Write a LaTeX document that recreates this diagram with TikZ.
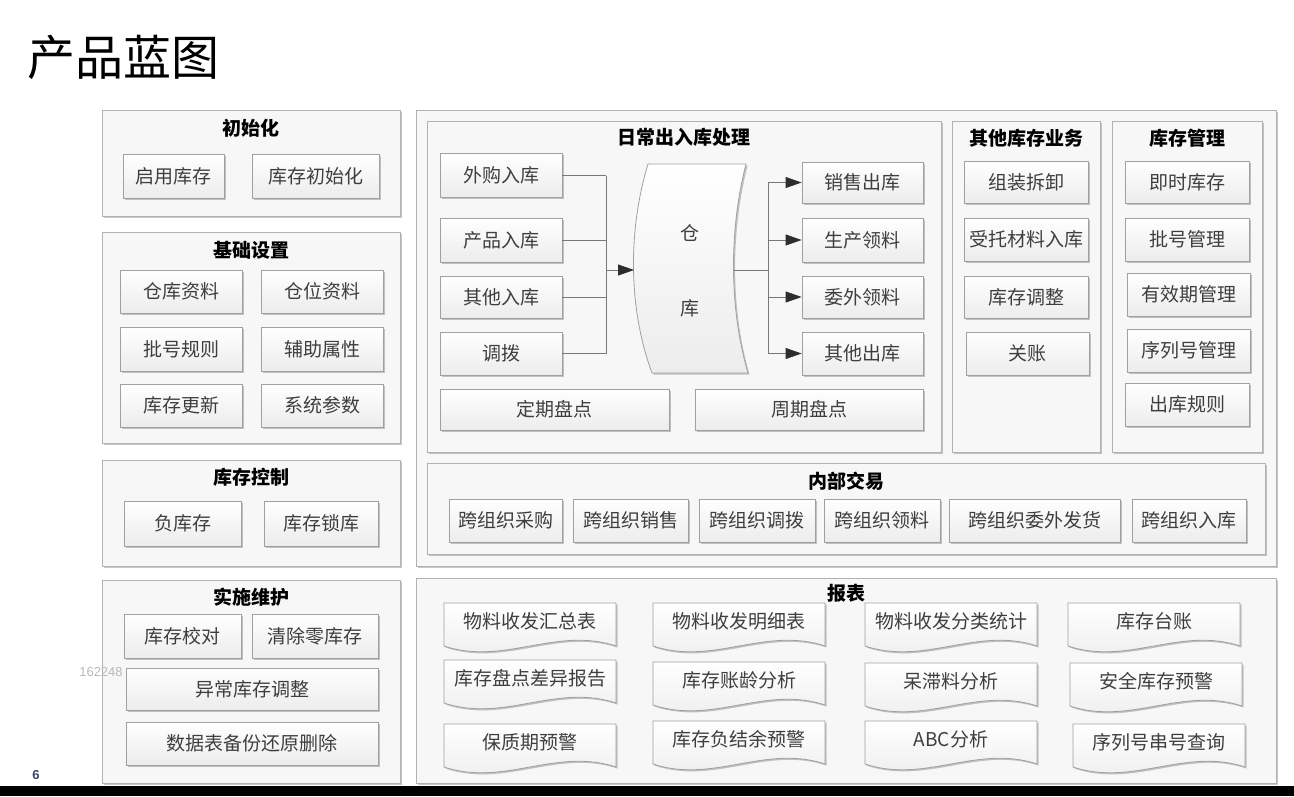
\documentclass[tikz,border=0pt]{standalone}
\usepackage{fontspec}
\setmainfont{Noto Sans CJK SC}
\newfontfamily\latinsans{Liberation Sans}
\usetikzlibrary{arrows.meta,shadows}

\definecolor{frameline}{RGB}{178,178,178}
\definecolor{framefill}{RGB}{247,247,247}
\definecolor{boxline}{RGB}{160,160,160}
\definecolor{boxbottom}{RGB}{236,236,236}
\definecolor{boxtext}{RGB}{62,62,62}
\definecolor{linkgray}{RGB}{120,120,120}
\definecolor{tipdark}{RGB}{45,45,45}
\definecolor{pagenum}{RGB}{60,70,100}

\newcommand{\cjkbig}{\fontsize{48}{56}\selectfont}
\newcommand{\cjkmid}{\fontsize{19}{22}\selectfont}

\begin{document}
\begin{tikzpicture}[x=1pt, y=-1pt, >=Latex]
    \tikzset{
        softshadow/.style={drop shadow={shadow xshift=1.6pt, shadow yshift=-1.6pt, fill=black, opacity=0.22}},
        frame/.style={rectangle, draw=frameline, fill=framefill, line width=0.9pt, inner sep=0pt, softshadow},
        grouptitle/.style={font=\bfseries\cjkmid, text=black, inner sep=1pt},
        box/.style={rectangle, draw=boxline, top color=white, bottom color=boxbottom, line width=0.8pt, minimum height=44pt, inner sep=2pt, font=\cjkmid, text=boxtext, softshadow},
        doc/.style={draw=boxline, top color=white, bottom color=boxbottom, line width=0.8pt, softshadow},
        doctext/.style={font=\cjkmid, text=boxtext, inner sep=1pt},
        link/.style={draw=linkgray, line width=0.8pt},
        flow/.style={link, -{Triangle[length=16pt, width=11pt, color=tipdark]}}
    }
    \useasboundingbox (0,0) rectangle (1294,796);
    \fill[white] (0,0) rectangle (1294,796);

    % title and page marks
    \node[anchor=west, font=\cjkbig, inner sep=0pt] (title) at (27,57) {产品蓝图};
    \node[font=\latinsans\bfseries\fontsize{13}{15}\selectfont, text=pagenum, inner sep=0pt] (page) at (36,775) {6};
    \fill[black] (0,786) rectangle (1294,796);

    % left column
    \node[frame, minimum width=298pt, minimum height=106pt] (init) at (251,163) {};
    \node[grouptitle] (initT) at (251,128) {初始化};
    \node[box, minimum width=101pt] (i1) at (173.5,176) {启用库存};
    \node[box, minimum width=127pt] (i2) at (315.5,176) {库存初始化};

    \node[frame, minimum width=298pt, minimum height=211pt] (base) at (251,337.5) {};
    \node[grouptitle] (baseT) at (251,250) {基础设置};
    \node[box, minimum width=122pt, minimum height=43pt] (b1) at (181,291.5) {仓库资料};
    \node[box, minimum width=122pt, minimum height=43pt] (b2) at (322,291.5) {仓位资料};
    \node[box, minimum width=122pt] (b3) at (181,349) {批号规则};
    \node[box, minimum width=122pt] (b4) at (322,349) {辅助属性};
    \node[box, minimum width=122pt, minimum height=43pt] (b5) at (181,405.5) {库存更新};
    \node[box, minimum width=122pt, minimum height=43pt] (b6) at (322,405.5) {系统参数};

    \node[frame, minimum width=298pt, minimum height=106pt] (ctrl) at (251,513) {};
    \node[grouptitle] (ctrlT) at (251,477) {库存控制};
    \node[box, minimum width=117pt, minimum height=45pt] (c1) at (182.5,523.5) {负库存};
    \node[box, minimum width=114pt, minimum height=45pt] (c2) at (321,523.5) {库存锁库};

    \node[frame, minimum width=298pt, minimum height=203pt] (impl) at (251,681.5) {};
    \node[grouptitle] (implT) at (251,597) {实施维护};
    \node[box, minimum width=117pt] (m1) at (182.5,636) {库存校对};
    \node[box, minimum width=126pt] (m2) at (315,636) {清除零库存};
    \node[box, minimum width=252pt, minimum height=42pt] (m3) at (252,689) {异常库存调整};
    \node[box, minimum width=252pt, minimum height=43pt] (m4) at (252,743.5) {数据表备份还原删除};
    \node[font=\latinsans\fontsize{13}{15}\selectfont, text=black!28, inner sep=0pt] (mark) at (101,672) {162248};

    % right upper block
    \node[frame, minimum width=860pt, minimum height=456pt] (ops) at (846,338) {};

    \node[frame, minimum width=514pt, minimum height=331pt] (daily) at (684,286.5) {};
    \node[grouptitle] (dailyT) at (684,137) {日常出入库处理};
    \node[box, minimum width=122pt] (in1) at (501,175.5) {外购入库};
    \node[box, minimum width=122pt] (in2) at (501,240) {产品入库};
    \node[box, minimum width=122pt, minimum height=42pt] (in3) at (501,297) {其他入库};
    \node[box, minimum width=122pt, minimum height=43pt] (in4) at (501,353.5) {调拨};
    \node[box, minimum width=121pt, minimum height=41pt] (out1) at (862.5,182.5) {销售出库};
    \node[box, minimum width=121pt] (out2) at (862.5,240) {生产领料};
    \node[box, minimum width=121pt, minimum height=42pt] (out3) at (862.5,297) {委外领料};
    \node[box, minimum width=121pt, minimum height=43pt] (out4) at (862.5,353.5) {其他出库};
    \node[box, minimum width=229pt, minimum height=41pt] (chk1) at (554.5,409.5) {定期盘点};
    \node[box, minimum width=228pt, minimum height=41pt] (chk2) at (809,409.5) {周期盘点};

    % warehouse
    \draw[doc] (648,164) -- (746,164) .. controls (729,230) and (729,308) .. (748,373)
        -- (652,373) .. controls (628,308) and (628,230) .. (648,164) -- cycle;
    \node[doctext] (whA) at (690,233) {仓};
    \node[doctext] (whB) at (690,308) {库};
    \coordinate (whL) at (634,270);
    \coordinate (whR) at (733.5,270);
    \coordinate (busL) at (606,270);
    \coordinate (busR) at (768,270);

    \foreach \n in {in1,in2,in3,in4} {\draw[link] (\n.east) -- (\n.east -| busL);}
    \draw[link] (in1.east -| busL) -- (in4.east -| busL);
    \draw[flow] (busL) -- (whL);
    \draw[link] (whR) -- (busR);
    \draw[link] (out1.west -| busR) -- (out4.west -| busR);
    \foreach \n in {out1,out2,out3,out4} {\draw[flow] (\n.west -| busR) -- (\n.west);}

    \node[frame, minimum width=148pt, minimum height=331pt] (other) at (1026,286.5) {};
    \node[grouptitle] (otherT) at (1026,138) {其他库存业务};
    \node[box, minimum width=124pt, minimum height=42pt] (o1) at (1026,182) {组装拆卸};
    \node[box, minimum width=124pt, minimum height=43pt] (o2) at (1026,239.5) {受托材料入库};
    \node[box, minimum width=124pt, minimum height=42pt] (o3) at (1026,297) {库存调整};
    \node[box, minimum width=123pt, minimum height=43pt] (o4) at (1027.5,353.5) {关账};

    \node[frame, minimum width=150pt, minimum height=331pt] (stock) at (1187,286.5) {};
    \node[grouptitle] (stockT) at (1187,138) {库存管理};
    \node[box, minimum width=124pt, minimum height=42pt] (s1) at (1187,182) {即时库存};
    \node[box, minimum width=124pt, minimum height=43pt] (s2) at (1187,239.5) {批号管理};
    \node[box, minimum width=123pt, minimum height=43pt] (s3) at (1188.5,294.5) {有效期管理};
    \node[box, minimum width=123pt, minimum height=43pt] (s4) at (1188.5,350.5) {序列号管理};
    \node[box, minimum width=124pt, minimum height=43pt] (s5) at (1187,404.5) {出库规则};

    \node[frame, minimum width=838pt, minimum height=91pt] (inner) at (846,508.5) {};
    \node[grouptitle] (innerT) at (846,481) {内部交易};
    \node[box, minimum width=113pt, minimum height=43pt] (t1) at (506,520.5) {跨组织采购};
    \node[box, minimum width=115pt, minimum height=43pt] (t2) at (631,520.5) {跨组织销售};
    \node[box, minimum width=116pt, minimum height=43pt] (t3) at (757,520.5) {跨组织调拨};
    \node[box, minimum width=116pt, minimum height=43pt] (t4) at (882,520.5) {跨组织领料};
    \node[box, minimum width=171pt, minimum height=43pt] (t5) at (1035,520.5) {跨组织委外发货};
    \node[box, minimum width=114pt, minimum height=43pt] (t6) at (1189,520.5) {跨组织入库};

    % reports
    \node[frame, minimum width=860pt, minimum height=205pt] (rep) at (846,680.5) {};
    \node[grouptitle] (repT) at (846,593) {报表};
    \foreach \x/\y/\n/\t in {444/603/r1/物料收发汇总表, 653/603/r2/物料收发明细表, 865/603/r3/物料收发分类统计, 1068/603/r4/库存台账,
        444/660/r5/库存盘点差异报告, 653/662/r6/库存账龄分析, 865/663/r7/呆滞料分析, 1070/663/r8/安全库存预警,
        444/724/r9/保质期预警, 653/721/r10/库存负结余预警, 865/721/r11/ABC分析, 1073/724/r12/序列号串号查询} {
        \draw[doc] (\x,\y) -- (\x+172,\y) -- (\x+172,\y+43)
            .. controls (\x+112,\y+23) and (\x+60,\y+63) .. (\x,\y+43) -- cycle;
        \node[doctext] (\n) at (\x+86,\y+18) {\t};
    }
\end{tikzpicture}
\end{document}
